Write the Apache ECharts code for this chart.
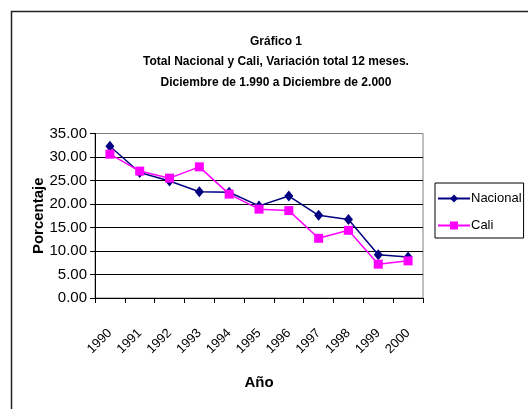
<!DOCTYPE html>
<html><head><meta charset="utf-8">
<script src="https://cdn.jsdelivr.net/npm/echarts@6/dist/echarts.min.js"></script>
<style>html,body{margin:0;padding:0;background:#fff}#c{width:528px;height:409px}</style>
</head><body><div id="c"></div>
<script>
const years = ['1990','1991','1992','1993','1994','1995','1996','1997','1998','1999','2000'];
const nacional = [32.3, 26.7, 24.9, 22.6, 22.5, 19.6, 21.7, 17.6, 16.7, 9.2, 8.7];
const cali = [30.6, 27.0, 25.5, 27.9, 22.1, 18.9, 18.6, 12.7, 14.4, 7.2, 7.9];
const yTicks = ['0.00','5.00','10.00','15.00','20.00','25.00','30.00','35.00'];

const F = "'Liberation Sans',Arial,sans-serif";
const chart = echarts.init(document.getElementById('c'), null, {renderer:'canvas'});
chart.setOption({
  animation:false,
  backgroundColor:'#fff',
  graphic:[{type:'rect',shape:{x:11.5,y:11.5,width:600,height:600},style:{fill:'none',stroke:'#222',lineWidth:1.5},silent:true}],
  title:{
    text:'Gráfico 1\nTotal Nacional y Cali, Variación total 12 meses.\nDiciembre de 1.990 a Diciembre de 2.000',
    left:271, top:26, textAlign:'center',
    textStyle:{fontFamily:F, fontWeight:'bold', fontSize:12, lineHeight:20.5, color:'#000'}
  },
  legend:{
    orient:'vertical', left:435, top:183, width:92, height:60,
    padding:[9,2,6,2], itemGap:14,
    borderColor:'#000', borderWidth:1, backgroundColor:'#fff',
    itemWidth:32, itemHeight:10,
    textStyle:{fontFamily:F, fontSize:13, color:'#000', padding:[0,0,0,-4]},
    data:[{name:'Nacional'},{name:'Cali'}]
  },
  grid:{left:95, top:133.5, width:328, height:164.5, show:true, borderColor:'#808080', borderWidth:1, containLabel:false},
  xAxis:{
    type:'category', data:years, boundaryGap:true,
    name:'Año', nameLocation:'middle', nameGap:77, nameMoveOverlap:false,
    nameTextStyle:{fontFamily:F, fontWeight:'bold', fontSize:15, color:'#000'},
    axisLine:{lineStyle:{color:'#000',width:1}},
    axisTick:{show:true, alignWithLabel:false, length:5, lineStyle:{color:'#000'}},
    axisLabel:{rotate:45, margin:33, fontFamily:F, fontSize:13, color:'#000', interval:0},
    splitLine:{show:false}
  },
  yAxis:{
    type:'value', min:0, max:35, interval:5,
    name:'Porcentaje', nameLocation:'middle', nameGap:49, nameRotate:90, nameMoveOverlap:false,
    nameTextStyle:{fontFamily:F, fontWeight:'bold', fontSize:15, color:'#000'},
    axisLine:{show:true, lineStyle:{color:'#000',width:1}},
    axisTick:{show:true, length:5, lineStyle:{color:'#000'}},
    axisLabel:{margin:8, fontFamily:F, fontSize:15, color:'#000', formatter:(v)=>yTicks[Math.round(v/5)]},
    splitLine:{show:true, lineStyle:{color:['#000','#000','#000','#000','#000','#000','#000','#808080'], width:1}}
  },
  series:[
    {name:'Nacional', type:'line', data:nacional, symbol:'diamond', symbolSize:[9,11],
     itemStyle:{color:'#000080'}, lineStyle:{color:'#000080', width:1.5}},
    {name:'Cali', type:'line', data:cali, symbol:'rect', symbolSize:9,
     itemStyle:{color:'#FF00FF'}, lineStyle:{color:'#FF00FF', width:1.5}}
  ]
});
</script></body></html>
